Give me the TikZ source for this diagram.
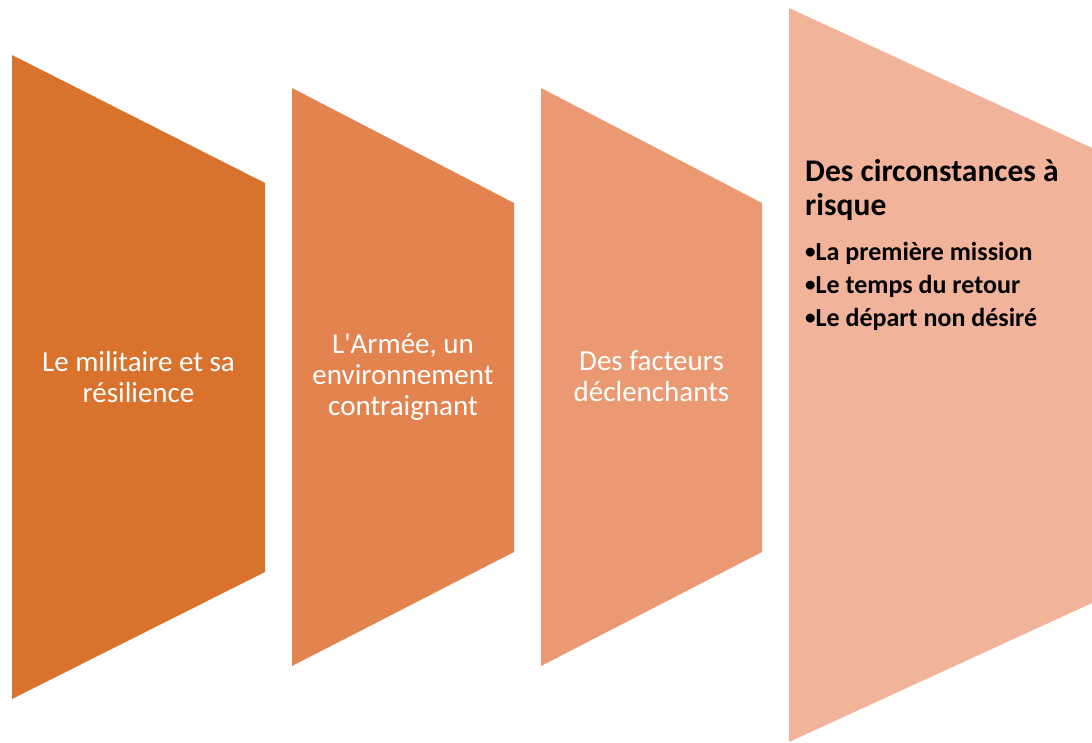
\documentclass[tikz,border=0pt]{standalone}
\usepackage{fontspec}
\setmainfont{Carlito}[Ligatures=TeXOff]
\usepackage{tikz}
\usetikzlibrary{positioning}
\definecolor{orange-1}{RGB}{216,114,44}
\definecolor{orange-2}{RGB}{226,131,80}
\definecolor{orange-3}{RGB}{234,153,115}
\definecolor{orange-4}{RGB}{242,179,155}
\tikzstyle{texte-etape}=[text=white,align=center,inner sep=0pt,font=\fontsize{29}{31}\selectfont]
\tikzstyle{titre-etape}=[text=black,align=left,anchor=north west,inner sep=0pt,font=\fontsize{31.5}{34}\selectfont\bfseries]
\tikzstyle{liste-etape}=[text=black,align=left,anchor=north west,inner sep=0pt,font=\fontsize{26}{33}\selectfont\bfseries]
\newcommand{\puce}{{\fontsize{21}{21}\selectfont\raisebox{1.5pt}{•}}}

\begin{document}
\begin{tikzpicture}[x=1pt,y=-1pt]
\useasboundingbox (0,0) rectangle (1092,742);
\fill[white] (0,0) rectangle (1092,742);

% les quatre etapes
\fill[orange-1] (12,55) -- (265,183) -- (265,572) -- (12,699) -- cycle;
\fill[orange-2] (292,88) -- (514,203) -- (514,552) -- (292,666) -- cycle;
\fill[orange-3] (541,88) -- (762,203) -- (762,552) -- (541,666) -- cycle;
\fill[orange-4] (789,8) -- (1092,148) -- (1092,603) -- (789,742) -- cycle;

\node[texte-etape] (etape1) at (138.5,377.5) {Le militaire et sa\\résilience};
\node[texte-etape] (etape2) at (403,377) {L'Armée, un\\environnement\\contraignant};
\node[texte-etape] (etape3) at (651.5,376.5) {Des facteurs\\déclenchants};

\node[titre-etape] (etape4) at (805,159) {Des circonstances à\\risque};
\node[liste-etape] (liste4) at (805,242) {\puce La première mission\\\puce Le temps du retour\\\puce Le départ non désiré};
\end{tikzpicture}
\end{document}
